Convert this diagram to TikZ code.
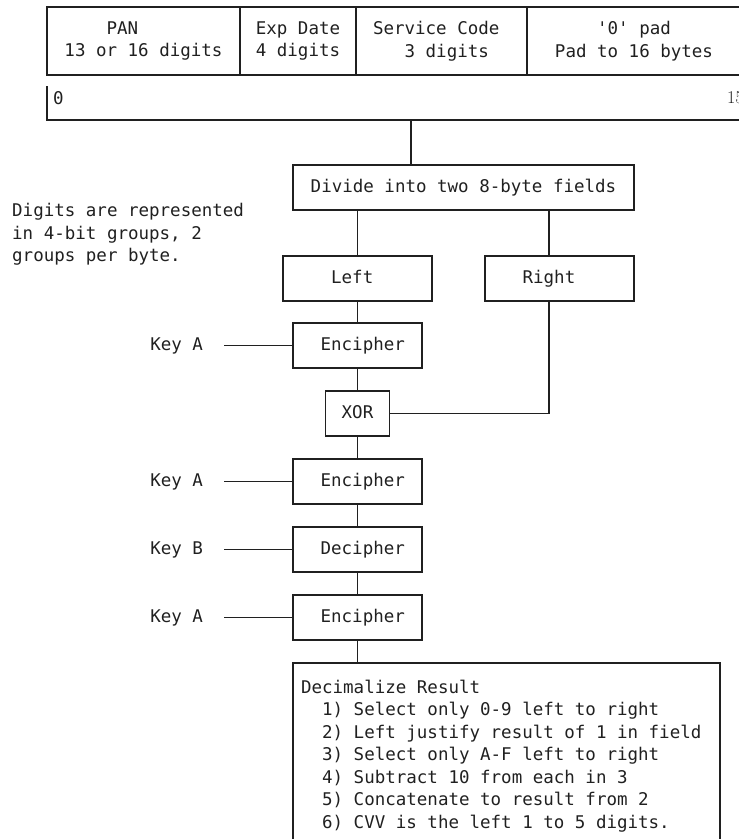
\documentclass[tikz,border=0pt]{standalone}
\usepackage{fontspec}
\setmonofont{DejaVu Sans Mono}
\usepackage{xcolor}
\usepackage{tikz}
\usetikzlibrary{positioning}
\definecolor{inkgrey}{RGB}{32,32,32}
\tikzset{
  field/.style={draw=inkgrey,line width=1.2pt,minimum height=68pt,
    inner sep=0pt,outer sep=0pt,align=left},
  stepbox/.style={draw=inkgrey,line width=1.2pt,minimum height=45pt,
    inner sep=0pt,outer sep=0pt,text height=12.8pt,text depth=3.6pt},
  listbox/.style={draw=inkgrey,line width=1.2pt,align=left,
    inner xsep=7pt,inner ysep=17pt,outer sep=0pt,minimum width=427pt},
  keylabel/.style={inner sep=0pt,outer xsep=21pt},
  wire/.style={draw=inkgrey,line width=1.2pt},
  note/.style={align=left,inner sep=0pt,anchor=north west}
}

\begin{document}
\begin{tikzpicture}[x=1pt,y=-1pt,node distance=23pt,text=inkgrey,
  font=\ttfamily\fontsize{17.5}{22.5}\selectfont]
  \useasboundingbox (0,0) rectangle (739,839);
  \clip (0,0) rectangle (739,839);
  % record layout
  \node[field,minimum width=193pt,anchor=north west] (pan) at (47,7)
    {\hphantom{xxxx}PAN\\13 or 16 digits};
  \node[field,minimum width=116pt,right=0pt of pan] (exp) {Exp Date\\4 digits};
  \node[field,minimum width=171pt,right=0pt of exp] (svc)
    {Service Code\hphantom{x}\\\hphantom{xxx}3 digits};
  \node[field,minimum width=214pt,right=0pt of svc] (pad)
    {\hphantom{xxxx}\textquotesingle0\textquotesingle{} pad\\Pad to 16 bytes};
  % byte ruler
  \coordinate (rulestart) at (47,86);
  \coordinate (ruleend) at (760,120);
  \draw[wire] (rulestart) |- (ruleend);
  \node[inner sep=0pt,anchor=west] (byte0) at (53,98) {0};
  \node[inner sep=0pt,anchor=west,font=\rmfamily\fontsize{18}{20}\selectfont]
    (byte15) at (727,98) {15};
  \node[note] (digits) at (12,203)
    {Digits are represented\\in 4-bit groups, 2\\groups per byte.};
  % split into halves
  \node[stepbox,minimum width=341pt,anchor=north west] (divide) at (293,165)
    {Divide into two 8-byte fields};
  \coordinate (drop) at (411,120);
  \draw[wire] (drop) -- (drop |- divide.north);
  \node[stepbox,minimum width=149pt,below right=46pt and -10pt of divide.south west]
    (left) {Left\hphantom{x}};
  \node[stepbox,minimum width=149pt,right=53pt of left] (right)
    {Right\hphantom{xx}};
  \coordinate (rtap) at (549,0);
  \draw[wire] (divide.south -| left.north) -- (left.north);
  \draw[wire] (divide.south -| rtap) -- (right.north -| rtap);
  % cipher chain
  \node[stepbox,minimum width=129pt,below=22pt of left] (enc1)
    {\hphantom{x}Encipher};
  \node[stepbox,minimum width=64pt,below=of enc1] (xor) {XOR};
  \node[stepbox,minimum width=129pt,below=of xor] (enc2) {\hphantom{x}Encipher};
  \node[stepbox,minimum width=129pt,below=of enc2] (dec) {\hphantom{x}Decipher};
  \node[stepbox,minimum width=129pt,below=of dec] (enc3) {\hphantom{x}Encipher};
  \draw[wire] (left) -- (enc1) -- (xor) -- (enc2) -- (dec) -- (enc3);
  \draw[wire] (right.south -| rtap) |- (xor.east);
  % keys
  \node[keylabel,left=69pt of enc1] (keya1) {Key A};
  \node[keylabel,left=69pt of enc2] (keya2) {Key A};
  \node[keylabel,left=69pt of dec] (keyb) {Key B};
  \node[keylabel,left=69pt of enc3] (keya3) {Key A};
  \draw[wire] (keya1) -- (enc1);
  \draw[wire] (keya2) -- (enc2);
  \draw[wire] (keyb) -- (dec);
  \draw[wire] (keya3) -- (enc3);
  % decimalization
  \node[listbox,below right=23pt and 0pt of enc3.south west] (decim)
    {Decimalize Result\\
     \hphantom{xx}1) Select only 0-9 left to right\\
     \hphantom{xx}2) Left justify result of 1 in field\hphantom{x}\\
     \hphantom{xx}3) Select only A-F left to right\\
     \hphantom{xx}4) Subtract 10 from each in 3\\
     \hphantom{xx}5) Concatenate to result from 2\\
     \hphantom{xx}6) CVV is the left 1 to 5 digits.};
  \draw[wire] (enc3) -- (enc3 |- decim.north);
\end{tikzpicture}
\end{document}
